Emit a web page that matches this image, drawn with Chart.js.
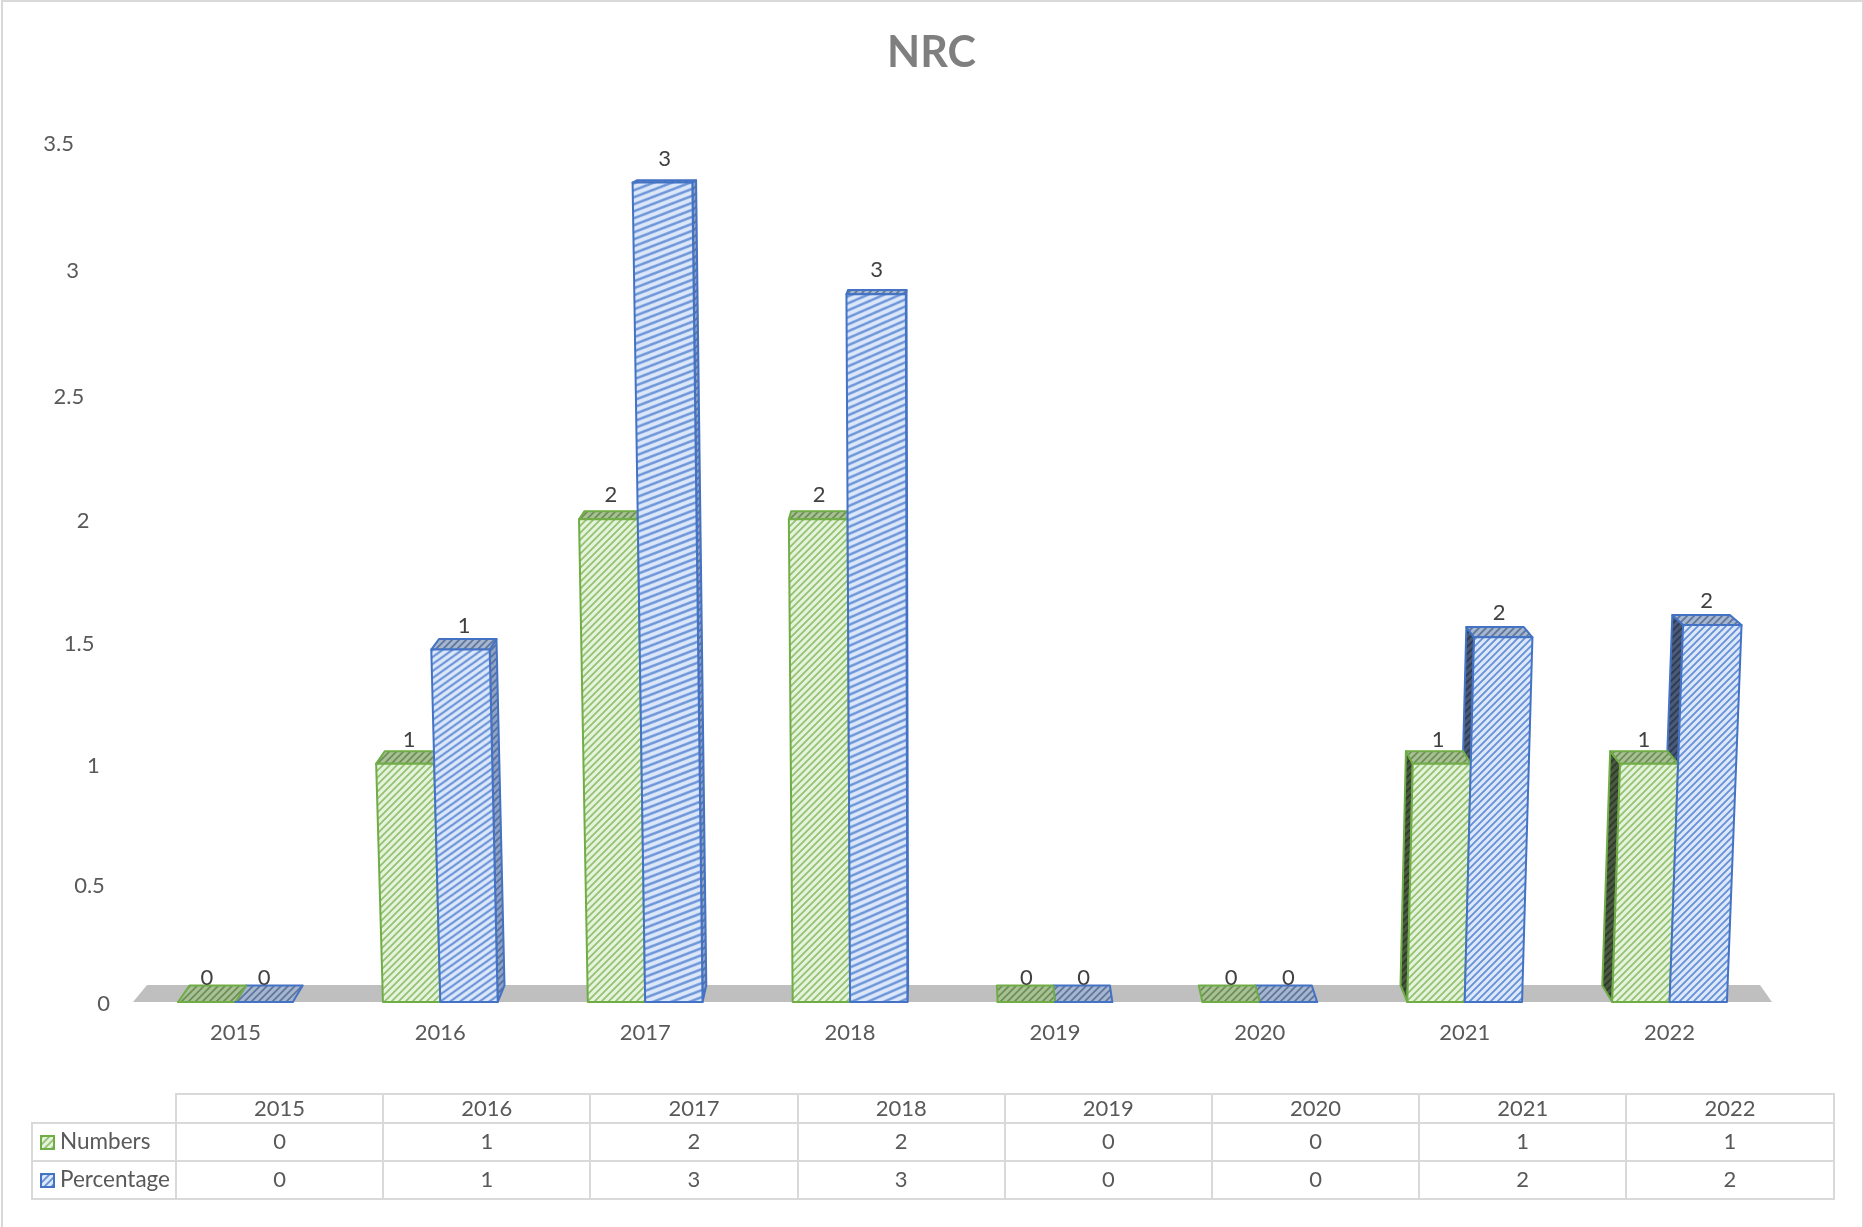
<!DOCTYPE html>
<html>
<head>
<meta charset="utf-8">
<script src="https://cdn.jsdelivr.net/npm/chart.js@4"></script>
<style>
html, body { margin: 0; padding: 0; background: #fff; }
#wrap { position: relative; width: 1863px; height: 1227px; overflow: hidden; }
#frame { position: absolute; left: 1px; top: 0; width: 1859px; height: 1230px; border: 2px solid #d9d9d9; }
canvas { position: absolute; left: 0; top: 0; }
#tbl { position: absolute; left: 31px; top: 1093px; border-collapse: collapse; table-layout: fixed; width: 1803px;
  font: 22px/22px Lato, sans-serif; color: #595959; }
#tbl td { border: 2px solid #d9d9d9; text-align: center; padding: 0 0 2px 0; }
#tbl td.blank { border: none; border-right: 2px solid #d9d9d9; border-bottom: 2px solid #d9d9d9; }
#tbl td.name { text-align: left; white-space: nowrap; padding-left: 7px; font-size: 22.5px; }
#tbl .sw { display: inline-block; width: 15px; height: 15px; margin-right: 5px; vertical-align: -1px; box-sizing: border-box; border-width: 2px; border-style: solid; }
</style>
</head>
<body>
<div id="wrap">
  <div id="frame"></div>
  <canvas id="c" width="1863" height="1227"></canvas>
  <table id="tbl"></table>
</div>
<script>
const years = ['2015', '2016', '2017', '2018', '2019', '2020', '2021', '2022'];
const numbers = [0, 1, 2, 2, 0, 0, 1, 1];
const percentage = [0, 1.47, 3.34, 2.9, 0, 0, 1.52, 1.57];
const yTicks = [0, 0.5, 1, 1.5, 2, 2.5, 3, 3.5];
// how much the stripes on the blue front faces are stretched sideways, per year
const blueStretch = [1, 1.4, 2.6, 2.3, 1, 1, 1, 1];

const GREEN = '#70ad47', BLUE = '#4472c4', TEXT = '#595959', DARK = '#404040';

function hatch(bg, fg) {
  const s = 7, c = document.createElement('canvas');
  c.width = s; c.height = s;
  const x = c.getContext('2d');
  x.fillStyle = bg; x.fillRect(0, 0, s, s);
  x.strokeStyle = fg; x.lineWidth = 1.8;
  x.beginPath();
  x.moveTo(-2, 2); x.lineTo(2, -2);
  x.moveTo(0, s); x.lineTo(s, 0);
  x.moveTo(s - 2, s + 2); x.lineTo(s + 2, s - 2);
  x.stroke();
  return c;
}
const tex = {
  green: { front: hatch('#e6f3dc', '#93c272'), top: hatch('#a9c096', '#6d8f55'), side: hatch('#4a5a40', '#2f3a2a'), sideR: hatch('#8fa87c', '#5f8a45'), line: GREEN },
  blue: { front: hatch('#dce8fa', '#6690d6'), top: hatch('#a7b6cf', '#5f769c'), side: hatch('#4a5a78', '#2f3b52'), sideR: hatch('#8fa3c6', '#56719f'), line: BLUE }
};

// the plot is seen from a little below its top, so higher values sit further apart
class PerspectiveScale extends Chart.LinearScale {
  getPixelForValue(value) {
    if (value === null) return NaN;
    const p = (value - this._startValue) / this._valueRange;
    return this.getPixelForDecimal(p * 0.9575 + 0.0425 * p * p);
  }
}
PerspectiveScale.id = 'perspective';
PerspectiveScale.defaults = Chart.LinearScale.defaults;
Chart.register(PerspectiveScale);

function poly(ctx, pts, fill, line) {
  ctx.beginPath();
  pts.forEach((p, i) => i ? ctx.lineTo(p[0], p[1]) : ctx.moveTo(p[0], p[1]));
  ctx.closePath();
  ctx.fillStyle = fill; ctx.fill();
  ctx.strokeStyle = line; ctx.lineWidth = 2; ctx.lineJoin = 'round'; ctx.stroke();
}

function barFaces(chart, el) {
  const a = chart.chartArea, cx = (a.left + a.right) / 2, h = el.base - el.y;
  const lean = x => cx + (x - cx) * (1 + 0.00005 * h);
  const l = el.x - el.width / 2, r = el.x + el.width / 2;
  const back = x => -(x - cx) * 0.015;
  const dy = 16.6 * (1 - h / 950);
  const tl = [lean(l), el.y], tr = [lean(r), el.y], bl = [l, el.base], br = [r, el.base];
  const tlb = [tl[0] + back(l), el.y - dy], trb = [tr[0] + back(r), el.y - dy];
  return {
    front: [tl, tr, br, bl],
    top: [tl, tr, trb, tlb],
    rightSide: el.x < cx,
    side: el.x > cx ? [tl, tlb, [l + back(l), el.base - 16.6], bl] : [tr, trb, [r + back(r), el.base - 16.6], br],
    // label sits over the front edge on flat bars, halfway to the back edge on tall ones
    labelX: (tl[0] + tr[0]) / 2 + back(el.x) * 0.5 * Math.min(1, h / 200)
  };
}

const bars3d = {
  id: 'bars3d',
  beforeDatasetsDraw(chart) {
    const ctx = chart.ctx, a = chart.chartArea, y0 = chart.scales.y.getPixelForValue(0);
    ctx.save();
    // floor
    ctx.beginPath();
    ctx.moveTo(a.left, y0); ctx.lineTo(a.right, y0);
    ctx.lineTo(a.right - 12, y0 - 17); ctx.lineTo(a.left + 14, y0 - 17);
    ctx.closePath();
    ctx.fillStyle = '#bfbfbf'; ctx.fill();

    const sets = [{ meta: chart.getDatasetMeta(1), t: tex.blue, stretch: blueStretch }, { meta: chart.getDatasetMeta(0), t: tex.green }];
    sets.forEach(s => {
      const side = ctx.createPattern(s.t.side, 'repeat'), sideR = ctx.createPattern(s.t.sideR, 'repeat');
      const top = ctx.createPattern(s.t.top, 'repeat');
      s.meta.data.forEach(el => {
        const f = barFaces(chart, el);
        if (el.base - el.y > 1) poly(ctx, f.side, f.rightSide ? sideR : side, s.t.line);
        poly(ctx, f.top, top, s.t.line);
      });
    });
    sets.reverse().forEach(s => {
      s.meta.data.forEach((el, j) => {
        const front = ctx.createPattern(s.t.front, 'repeat');
        if (s.stretch) front.setTransform(new DOMMatrix().scale(s.stretch[j], 1));
        poly(ctx, barFaces(chart, el).front, front, s.t.line);
      });
    });

    // value labels over each bar
    ctx.font = '22px Lato, sans-serif';
    ctx.fillStyle = DARK; ctx.textAlign = 'center'; ctx.textBaseline = 'middle';
    chart.data.datasets.forEach((ds, i) => {
      chart.getDatasetMeta(i).data.forEach((el, j) => {
        ctx.fillText(String(Math.round(ds.data[j])), barFaces(chart, el).labelX, el.y - 24);
      });
    });

    // y tick labels drift left with height
    const sy = chart.scales.y;
    ctx.fillStyle = TEXT; ctx.textAlign = 'right';
    yTicks.forEach(v => ctx.fillText(String(v), 110 - 10.3 * v, sy.getPixelForValue(v) + 2));
    ctx.restore();
    return false;
  }
};

new Chart(document.getElementById('c'), {
  type: 'bar',
  plugins: [bars3d],
  data: {
    labels: years,
    datasets: [
      { label: 'Numbers', data: numbers, backgroundColor: '#e6f3dc', borderColor: GREEN },
      { label: 'Percentage', data: percentage, backgroundColor: '#dce8fa', borderColor: BLUE }
    ]
  },
  options: {
    responsive: false,
    animation: false,
    devicePixelRatio: 1,
    layout: { padding: 0 },
    datasets: { bar: { barPercentage: 1, categoryPercentage: 0.56 } },
    plugins: {
      legend: { display: false },
      tooltip: { enabled: false },
      title: { display: true, text: 'NRC', color: '#7f7f7f', font: { family: 'Lato', size: 43, weight: 'bold' }, padding: { top: 27, bottom: 63 } }
    },
    scales: {
      x: {
        grid: { display: false }, border: { display: false },
        ticks: { color: TEXT, font: { family: 'Lato', size: 22 }, padding: 10 },
        afterFit(s) { s.height = 225; }
      },
      y: {
        type: 'perspective', min: 0, max: 3.5,
        grid: { display: false }, border: { display: false },
        ticks: { display: false, stepSize: 0.5 },
        afterFit(s) { s.width = 133; }
      },
      // empty margin on the right so the title stays centred on the page
      rightMargin: {
        type: 'linear', position: 'right',
        grid: { display: false }, border: { display: false },
        ticks: { display: false },
        afterFit(s) { s.width = 91; }
      }
    }
  }
});

// data table under the plot
const tbl = document.getElementById('tbl');
function swatch(t) {
  const u = t.front.toDataURL();
  return `<span class="sw" style="background:url(${u});border-color:${t.line}"></span>`;
}
function row(name, vals, h) {
  return `<tr style="height:${h}px">${name}${vals.map(v => `<td>${v}</td>`).join('')}</tr>`;
}
tbl.innerHTML =
  `<colgroup><col style="width:144px">${years.map(() => '<col style="width:207.2px">').join('')}</colgroup>` +
  row('<td class="blank"></td>', years, 29) +
  row(`<td class="name">${swatch(tex.green)}Numbers</td>`, numbers, 38) +
  row(`<td class="name">${swatch(tex.blue)}Percentage</td>`, percentage.map(v => Math.round(v)), 38);
</script>
</body>
</html>
